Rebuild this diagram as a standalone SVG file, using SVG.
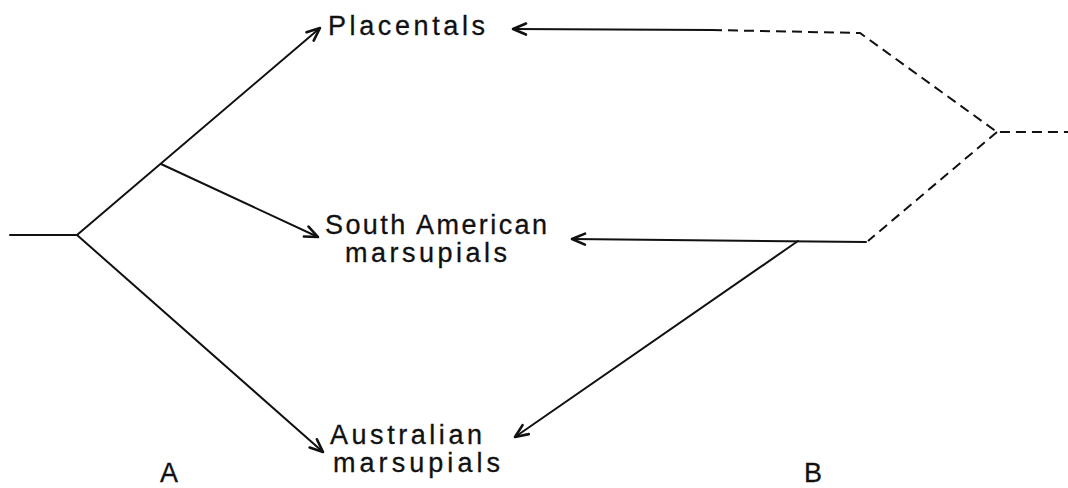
<svg xmlns="http://www.w3.org/2000/svg" width="1068" height="488" viewBox="0 0 1068 488">
<style>
.ln{stroke:#111;stroke-width:2;fill:none;stroke-linecap:round}
.ar{marker-end:url(#arr)}
.ds{stroke-dasharray:10 6;stroke-linecap:butt}
.lbl{font-family:"Liberation Sans",Arial,sans-serif;font-size:27px;fill:#111;stroke:#111;stroke-width:0.3}
</style>
<defs>
<marker id="arr" markerUnits="userSpaceOnUse" markerWidth="20" markerHeight="20" viewBox="-16 -10 20 20" refX="0" refY="0" orient="auto">
<path d="M-13,-5.5 L0,0 L-13,5.5" fill="none" stroke="#111" stroke-width="2.6" stroke-linecap="round" stroke-linejoin="round"/>
</marker>
</defs>
<rect width="1068" height="488" fill="#fff"/>
<g id="connectors">
<line class="ln" x1="10" y1="235" x2="77" y2="235"/>
<line class="ln ar" x1="77" y1="235" x2="320" y2="28"/>
<line class="ln ar" x1="161" y1="164" x2="318" y2="237"/>
<line class="ln ar" x1="77" y1="235" x2="323" y2="452"/>
<line class="ln ar" x1="712" y1="30" x2="513" y2="29"/>
<polyline class="ln ds" points="712,30 860,33 997,132 1068,132"/>
<line class="ln ds" x1="997" y1="132" x2="868" y2="241"/>
<line class="ln ar" x1="866" y1="242" x2="572" y2="239"/>
<line class="ln ar" x1="798" y1="241" x2="515" y2="437"/>
</g>
<g id="placentals"><text class="lbl" x="328" y="35" textLength="157" lengthAdjust="spacing">Placentals</text></g>
<g id="south-american"><text class="lbl" x="325" y="234" textLength="222" lengthAdjust="spacing">South American</text><text class="lbl" x="345" y="262" textLength="162" lengthAdjust="spacing">marsupials</text></g>
<g id="australian"><text class="lbl" x="330" y="444" textLength="152" lengthAdjust="spacing">Australian</text><text class="lbl" x="333" y="472" textLength="167" lengthAdjust="spacing">marsupials</text></g>
<g id="label-a"><text class="lbl" x="169" y="482" text-anchor="middle">A</text></g>
<g id="label-b"><text class="lbl" x="813" y="482" text-anchor="middle">B</text></g>
</svg>
